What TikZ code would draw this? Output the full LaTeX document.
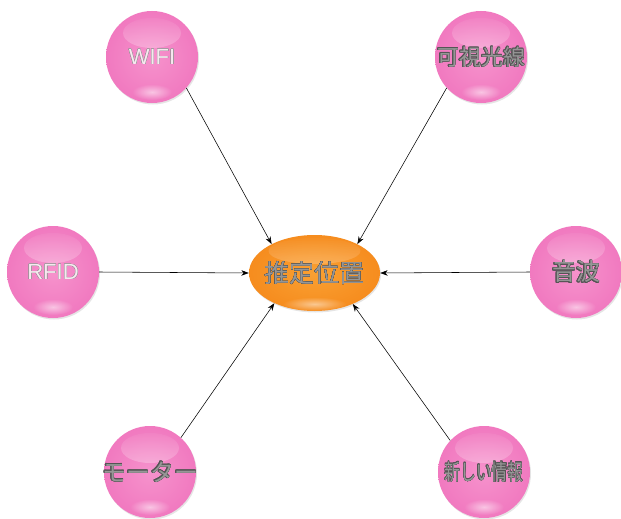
\documentclass[tikz,border=0pt]{standalone}
\usepackage{fontspec}
\setmainfont{Liberation Sans}
\newfontfamily\jp{Noto Sans CJK JP}
\usepackage{contour}
\contourlength{0.28pt}
\usetikzlibrary{arrows.meta,shapes.geometric,shadows,fadings}
\definecolor{pinkC}{RGB}{246,146,204}
\definecolor{pinkM}{RGB}{240,118,190}
\definecolor{pinkE}{RGB}{225,88,165}
\definecolor{orC}{RGB}{250,160,50}
\definecolor{orM}{RGB}{245,138,28}
\definecolor{orE}{RGB}{226,104,10}
\definecolor{txt}{RGB}{150,150,150}
\definecolor{txtline}{RGB}{85,85,85}
\definecolor{txtlight}{RGB}{248,232,240}
\pgfdeclareradialshading{ballshade}{\pgfpoint{0bp}{0bp}}{color(0bp)=(pinkC); color(28bp)=(pinkM); color(45bp)=(pinkM); color(50bp)=(pinkE)}
\pgfdeclareradialshading{hubshade}{\pgfpoint{0bp}{0bp}}{color(0bp)=(orC); color(28bp)=(orM); color(45bp)=(orM); color(50bp)=(orE)}
\tikzfading[name=glow, inner color=transparent!0, outer color=transparent!100]
\tikzset{
  ball/.style={circle, minimum size=92pt, inner sep=0pt, shading=ballshade,
    drop shadow={opacity=0.2, shadow xshift=1pt, shadow yshift=-1.5pt},
    path picture={
      \fill[white, opacity=0.65, path fading=north]
        ([yshift=24pt]path picture bounding box.center) ellipse (29pt and 15pt);
      \fill[white, opacity=0.55, path fading=glow]
        ([yshift=-35pt]path picture bounding box.center) ellipse (20pt and 8pt);
    }},
  hub/.style={ellipse, minimum width=131pt, minimum height=76pt, inner sep=0pt,
    shading=hubshade,
    drop shadow={opacity=0.2, shadow xshift=1pt, shadow yshift=-1.5pt},
    path picture={
      \fill[white, opacity=0.55, path fading=north]
        ([yshift=22pt]path picture bounding box.center) ellipse (46pt and 13pt);
      \fill[white, opacity=0.5, path fading=glow]
        ([yshift=-31pt]path picture bounding box.center) ellipse (32pt and 7pt);
    }},
  link/.style={draw=black, line width=0.55pt, -{Stealth[length=7.5pt,width=5.5pt]}},
}
\newcommand\jplabel[2]{\makebox[0pt]{\jp\fontsize{#1}{#1}\selectfont\contour{txtline}{\textcolor{txt}{#2}}}}
\newcommand\latlabel[1]{\makebox[0pt]{\fontsize{22}{22}\selectfont\contour{txt}{\textcolor{txtlight}{#1}}}}
\begin{document}
\begin{tikzpicture}[x=1pt,y=-1pt]
\useasboundingbox (0,0) rectangle (621,519);
\fill[white] (0,0) rectangle (621,519);
\node[hub] (hub) at (314.5,273) {\jplabel{25}{推定位置}};
\node[ball] (wifi) at (152,57) {\latlabel{WIFI}};
\node[ball] (kashi) at (481,57) {\jplabel{22}{可視光線}};
\node[ball] (rfid) at (53,272) {\latlabel{RFID}};
\node[ball] (onpa) at (576,272) {\jplabel{24}{音波}};
\node[ball] (motor) at (150,472) {\jplabel{24}{モーター}};
\node[ball] (new) at (484,472) {\makebox[0pt]{\scalebox{0.72}[1]{\jp\fontsize{22}{22}\selectfont\contour{txtline}{\textcolor{txt}{新しい情報}}}}};
\draw[link] (wifi.-42) -- (hub.146);
\draw[link] (kashi.222) -- (hub.34);
\draw[link] (rfid.0) -- (hub.180);
\draw[link] (onpa.180) -- (hub.0);
\draw[link] (motor.48) -- (hub.217);
\draw[link] (new.137) -- (hub.321);
\end{tikzpicture}
\end{document}
